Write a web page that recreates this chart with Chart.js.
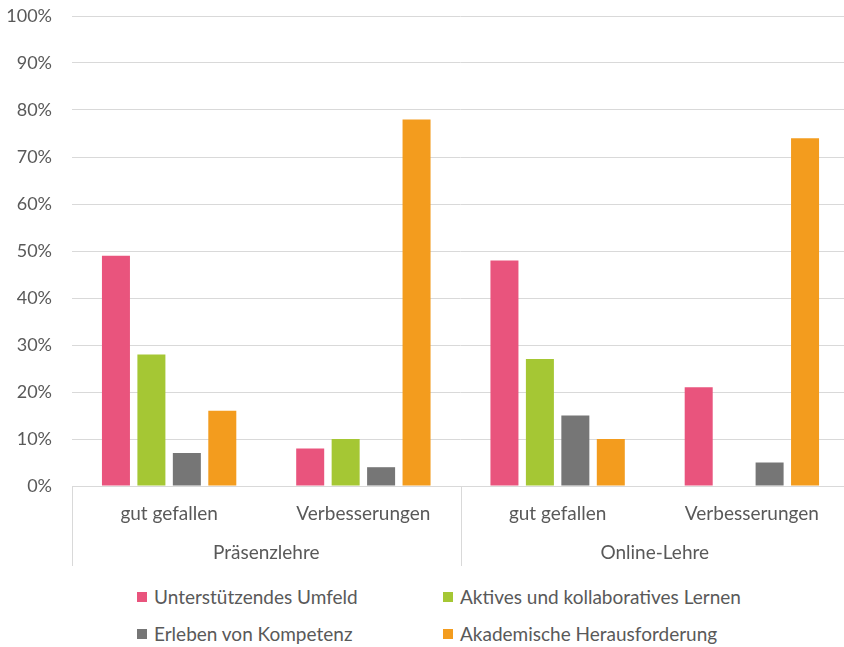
<!DOCTYPE html>
<html>
<head>
<meta charset="utf-8">
<script src="https://cdn.jsdelivr.net/npm/chart.js@4.4.0/dist/chart.umd.min.js"></script>
<style>
  html, body { margin: 0; background: #fff; overflow: hidden; }
  #wrap { position: relative; width: 849px; height: 566px; }
  #legend {
    position: absolute; left: 137px; top: 578px;
    display: grid; grid-template-columns: 306px auto;
    font-family: Lato, sans-serif; font-size: 19px; color: #595959;
  }
  #legend .item { display: flex; align-items: center; height: 37px; white-space: nowrap; }
  #legend .box { width: 10px; height: 10px; margin-right: 7px; }
</style>
</head>
<body>
<div id="wrap"><canvas id="chart"></canvas></div>
<div id="legend"></div>
<script>
(function () {
  'use strict';

  var categories = ['gut gefallen', 'Verbesserungen', 'gut gefallen', 'Verbesserungen'];
  var groups = ['Präsenzlehre', 'Online-Lehre'];
  var seriesNames = [
    'Unterstützendes Umfeld',
    'Aktives und kollaboratives Lernen',
    'Erleben von Kompetenz',
    'Akademische Herausforderung'
  ];
  var umfeld = [49, 8, 48, 21];
  var aktiv = [28, 10, 27, 0];
  var kompetenz = [7, 4, 15, 5];
  var herausforderung = [16, 78, 10, 74];
  var colors = ['#e9547d', '#a5c734', '#767676', '#f39c1e'];

  var text = '#595959';
  var grid = '#d9d9d9';
  var font = { family: 'Lato, sans-serif', size: 19 };
  var yFont = { family: 'Lato, sans-serif', size: 18 };

  // vertical separators under the axis, between the two groups
  var separators = {
    id: 'groupSeparators',
    afterDraw: function (chart) {
      var x = chart.scales.x, x2 = chart.scales.x2, ctx = chart.ctx;
      ctx.save();
      ctx.strokeStyle = grid;
      ctx.lineWidth = 1;
      for (var g = 0; g <= groups.length; g++) {
        var px = Math.round(x.left + (x.right - x.left) * g / groups.length) + 0.5;
        ctx.beginPath();
        ctx.moveTo(px, x.top);
        ctx.lineTo(px, x2.bottom);
        ctx.stroke();
      }
      ctx.restore();
    }
  };

  var series = [umfeld, aktiv, kompetenz, herausforderung];
  var datasets = series.map(function (d, i) {
    return {
      label: seriesNames[i],
      data: d,
      backgroundColor: colors[i],
      borderWidth: 0,
      categoryPercentage: 0.73,
      barPercentage: 0.79
    };
  });

  new Chart(document.getElementById('chart'), {
    type: 'bar',
    data: { labels: categories, datasets: datasets },
    plugins: [separators],
    options: {
      responsive: true,
      maintainAspectRatio: false,
      animation: false,
      layout: { padding: 0 },
      plugins: { legend: { display: false }, tooltip: { enabled: false } },
      scales: {
        x: {
          grid: { display: false },
          border: { color: grid },
          ticks: { color: text, font: font, padding: 8, maxRotation: 0, autoSkip: false },
          afterFit: function (s) { s.height = 44; }
        },
        x2: {
          type: 'category',
          labels: groups,
          position: 'bottom',
          offset: true,
          grid: { display: false },
          border: { display: false },
          ticks: { color: text, font: font, padding: 3, maxRotation: 0 },
          afterFit: function (s) { s.height = 36; }
        },
        y: {
          min: 0,
          max: 100,
          grid: { color: grid, drawTicks: false },
          border: { display: false },
          ticks: {
            stepSize: 10,
            color: text,
            font: yFont,
            padding: 20,
            callback: function (v) { return v + '%'; }
          },
          afterFit: function (s) {
            s.width = 72;
            s.paddingTop = 16;
            s.paddingBottom = 0;
          }
        }
      }
    }
  });

  var legend = document.getElementById('legend');
  seriesNames.forEach(function (name, i) {
    var item = document.createElement('div');
    item.className = 'item';
    var box = document.createElement('span');
    box.className = 'box';
    box.style.background = colors[i];
    item.appendChild(box);
    item.appendChild(document.createTextNode(name));
    legend.appendChild(item);
  });
})();
</script>
</body>
</html>
